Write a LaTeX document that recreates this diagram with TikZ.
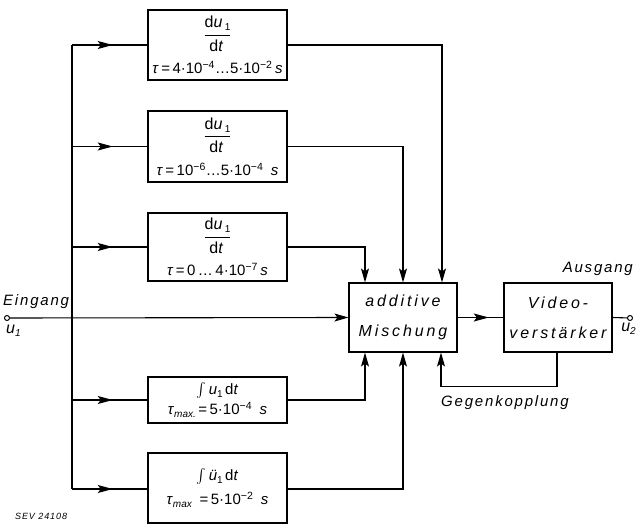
\documentclass[tikz,border=0pt]{standalone}
\usepackage{amsmath}
\usepackage{fontspec}
\setmainfont{Liberation Sans}
\usetikzlibrary{arrows.meta,decorations.markings,calc}
\newcommand{\fr}[2]{{\fontsize{16}{16}\selectfont\addfontfeatures{LetterSpace=15}$\dfrac{\text{#1}}{\text{#2}}$}}
\newcommand{\sub}[1]{\raisebox{-3pt}{\fontsize{10}{10}\selectfont #1}}
\begin{document}
\begin{tikzpicture}[x=1pt,y=-1pt,
  wire/.style={line width=1.1pt},
  blk/.style={draw,line width=1.1pt,minimum width=139pt,inner sep=0pt,align=center,
    font=\fontsize{15}{17}\selectfont},
  big/.style={draw,line width=1.1pt,minimum width=108pt,minimum height=69pt,inner sep=0pt,align=center,
    font=\fontsize{16}{30}\selectfont\itshape\addfontfeatures{LetterSpace=18}},
  arr/.style={-{Stealth[length=14pt,width=8pt,inset=3pt]}},
  midarrow/.style={postaction={decorate},decoration={markings,mark=at position #1 with {\arrow[line width=1.1pt]{Stealth[length=15pt,width=8pt,inset=3pt]}}}},
  lbl/.style={inner sep=0pt,font=\fontsize{15}{16}\selectfont\itshape\addfontfeatures{LetterSpace=12}},
  term/.style={circle,draw,line width=1pt,inner sep=0pt,minimum size=5pt,fill=white}]
\useasboundingbox (0,0) rectangle (637,524);
% blocks
\node[blk,minimum height=70pt] (b1) at (217.5,45)
  {\fr{d\textit{u}\sub{1}}{d\textit{t}}\\[9pt]\textit{τ}\,=\,4·10\textsuperscript{−4}…5·10\textsuperscript{−2}\,\textit{s}};
\node[blk,minimum height=71pt] (b2) at (217.5,146.5)
  {\fr{d\textit{u}\sub{1}}{d\textit{t}}\\[9pt]\textit{τ}\,=\,10\textsuperscript{−6}…5·10\textsuperscript{−4}\enspace\textit{s}};
\node[blk,minimum height=68pt] (b3) at (217.5,247)
  {\fr{d\textit{u}\sub{1}}{d\textit{t}}\\[9pt]\textit{τ}\,=\,0\,…\,4·10\textsuperscript{−7}\,\textit{s}};
\node[blk,minimum height=46pt] (b4) at (217.5,400)
  {$\int$\,\textit{u}\sub{1}\,d\textit{t}\\[3pt]\textit{τ}\sub{\textit{max.}}\,=\,5·10\textsuperscript{−4}\enspace\textit{s}};
\node[blk,minimum height=70pt] (b5) at (217.5,488)
  {$\int$\,\textit{ü}\sub{1}\,d\textit{t}\\[7pt]\textit{τ}\sub{\textit{max}}\enspace=\,5·10\textsuperscript{−2}\enspace\textit{s}};
\node[big] (m) at (403,317.5) {additive\\Mischung};
\node[big] (v) at (558,317.5) {Video\,-\\verstärker};
% terminals
\node[term] (in) at (7,318) {};
\node[term] (out) at (630,318) {};
% bus
\coordinate (bt) at (72,45);
\coordinate (bb) at (72,489);
\draw[wire] (bt) -- (bb);
\draw[wire,midarrow=0.54] (bt) -- (b1.west);
\draw[wire,midarrow=0.54] (b2.west -| bt) -- (b2.west);
\draw[wire,midarrow=0.54] (b3.west -| bt) -- (b3.west);
\draw[wire,midarrow=0.54] (b4.west -| bt) -- (b4.west);
\draw[wire,midarrow=0.54] (bb) -- (b5.west |- bb);
% input and output
\draw[wire,arr] (in) -- (m.west);
\draw[wire,midarrow=0.68] (m.east) -- (v.west);
\draw[wire] (v.east) -- (out);
% block outputs into the mixer
\draw[wire,arr] (b1.east) -| ([xshift=39pt]m.north);
\draw[wire,arr] (b2.east) -| (m.north);
\draw[wire,arr] (b3.east) -| ([xshift=-38pt]m.north);
\draw[wire,arr] (b4.east) -| ([xshift=-38pt]m.south);
\draw[wire,arr] (b5.east |- bb) -| (m.south);
% feedback
\draw[wire,arr] ([xshift=-1pt]v.south) -- ++(0,34) -| ([xshift=38pt]m.south);
% labels
\node[lbl,anchor=south west] (ein) at (3,309) {Eingang};
\node[lbl,anchor=north west,font=\fontsize{16}{16}\selectfont\itshape] (u1) at (6,325) {u\sub{1}};
\node[lbl,anchor=south east] (aus) at (633,276) {Ausgang};
\node[lbl,anchor=north east,font=\fontsize{16}{16}\selectfont\itshape] (u2) at (636,323) {u\sub{2}};
\node[lbl] (gk) at (505,403) {Gegenkopplung};
\node[inner sep=0pt,anchor=west,font=\fontsize{9}{10}\selectfont\itshape\addfontfeatures{LetterSpace=10}] (sev) at (15,516) {SEV 24108};
\end{tikzpicture}
\end{document}
